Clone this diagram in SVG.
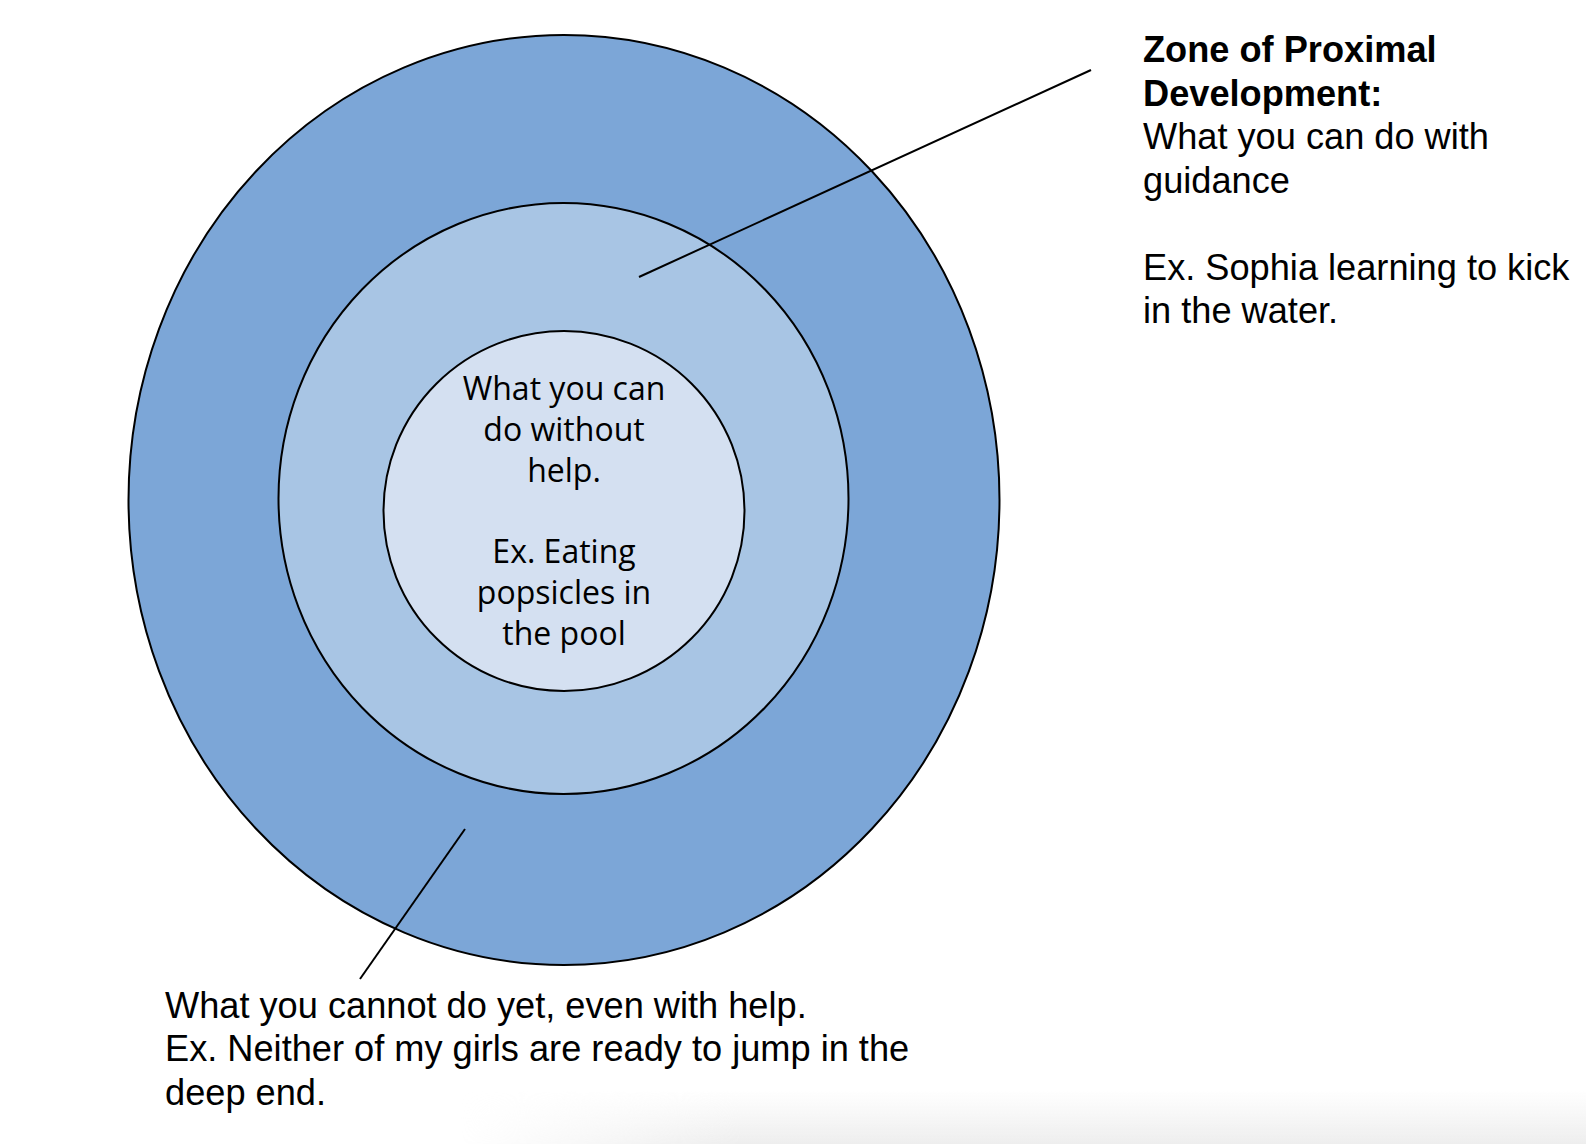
<svg xmlns="http://www.w3.org/2000/svg" width="1586" height="1144" viewBox="0 0 1586 1144">
<style>
.ring{stroke:#000;stroke-width:2}
.conn{stroke:#000;stroke-width:2;fill:none}
.lbl{font-family:"Liberation Sans",Arial,sans-serif;font-size:36.2px;fill:#000}
.b{font-weight:bold}
.inner{font-family:"Open Sans","Noto Sans",sans-serif;font-size:32px;fill:#000;text-anchor:middle}
</style>
<defs>
<linearGradient id="shV" x1="0" y1="0" x2="0" y2="1">
<stop offset="0" stop-color="#eeeeee" stop-opacity="0"/>
<stop offset="1" stop-color="#eeeeee" stop-opacity="1"/>
</linearGradient>
<linearGradient id="shH" x1="0" y1="0" x2="1" y2="0">
<stop offset="0" stop-color="#fff" stop-opacity="0"/>
<stop offset="0.25" stop-color="#fff" stop-opacity="1"/>
<stop offset="1" stop-color="#fff" stop-opacity="1"/>
</linearGradient>
<mask id="shM"><rect x="460" y="1090" width="1126" height="54" fill="url(#shH)"/></mask>
</defs>
<rect width="1586" height="1144" fill="#fff"/>
<rect x="460" y="1090" width="1126" height="54" fill="url(#shV)" mask="url(#shM)"/>
<g id="outer-zone">
<ellipse class="ring" cx="564" cy="500" rx="435.5" ry="465" fill="#7ca6d7"/>
</g>
<g id="proximal-zone">
<ellipse class="ring" cx="563.5" cy="498.5" rx="285" ry="295.5" fill="#a8c5e4"/>
</g>
<g id="inner-zone">
<ellipse class="ring" cx="564" cy="511" rx="180.5" ry="180" fill="#d4e0f1"/>
<text class="inner" x="564" y="400">What you can</text>
<text class="inner" x="564" y="441">do without</text>
<text class="inner" x="564" y="481.5">help.</text>
<text class="inner" x="564" y="563">Ex. Eating</text>
<text class="inner" x="564" y="604">popsicles in</text>
<text class="inner" x="564" y="645">the pool</text>
</g>
<g id="connectors">
<line class="conn" x1="1091" y1="70" x2="639" y2="277"/>
<line class="conn" x1="465" y1="829" x2="360" y2="979"/>
</g>
<g id="zpd-label">
<text class="lbl b" x="1143" y="62">Zone of Proximal</text>
<text class="lbl b" x="1143" y="105.5">Development:</text>
<text class="lbl" x="1143" y="149">What you can do with</text>
<text class="lbl" x="1143" y="192.5">guidance</text>
<text class="lbl" x="1143" y="279.5">Ex. Sophia learning to kick</text>
<text class="lbl" x="1143" y="323">in the water.</text>
</g>
<g id="outer-label">
<text class="lbl" x="165" y="1017.5">What you cannot do yet, even with help.</text>
<text class="lbl" x="165" y="1061">Ex. Neither of my girls are ready to jump in the</text>
<text class="lbl" x="165" y="1104.5">deep end.</text>
</g>
</svg>
